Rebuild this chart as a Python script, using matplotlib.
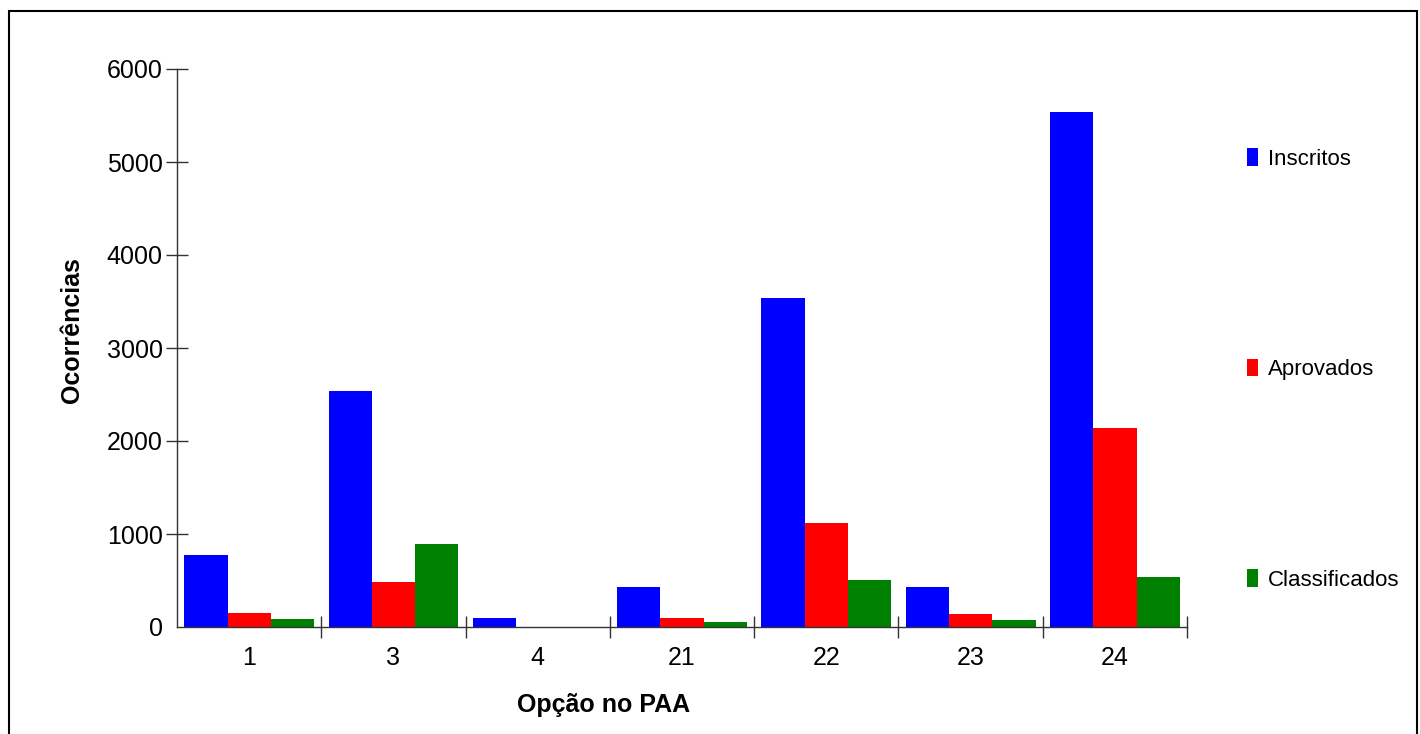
"""
Ocorrências por opção no PAA (Inscritos, Aprovados, Classificados).
"""

import matplotlib
matplotlib.use("Agg")
import matplotlib.pyplot as plt
import numpy as np
from matplotlib.patches import Rectangle

plt.rcParams["font.family"] = ["Liberation Sans", "DejaVu Sans"]

# ---- data ----
opcoes = ["1", "3", "4", "21", "22", "23", "24"]
inscritos = [770, 2540, 95, 435, 3540, 435, 5540]
aprovados = [150, 480, 0, 97, 1120, 135, 2140]
classificados = [85, 890, 0, 50, 505, 70, 535]

series_names = ["Inscritos", "Aprovados", "Classificados"]
series_colors = ["#0000FF", "#FF0000", "#008000"]

W, H = 1420, 734
fig = plt.figure(figsize=(W / 100, H / 100), dpi=100)

# outer frame
fig.patches.append(Rectangle((9 / W, -0.05), 1408 / W, 1.05 - 11 / H,
                             transform=fig.transFigure, fill=False,
                             edgecolor="black", linewidth=1.5))

left, right, top, bottom = 177, 1187, 69, 627
ax = fig.add_axes([left / W, (H - bottom) / H,
                   (right - left) / W, (bottom - top) / H])

n = len(opcoes)
x = np.arange(n) + 0.5
width = 0.3
all_series = [inscritos, aprovados, classificados]
handles = []
for i, (vals, name, col) in enumerate(zip(all_series, series_names, series_colors)):
    b = ax.bar(x + (i - 1) * width, vals, width=width, color=col,
               label=name, linewidth=0)
    handles.append(b)

ax.set_xlim(0, n)
ax.set_ylim(0, 6000)

for s in ["top", "right"]:
    ax.spines[s].set_visible(False)
for s in ["left", "bottom"]:
    ax.spines[s].set_color("#333333")
    ax.spines[s].set_linewidth(1.0)

# y ticks
ax.set_yticks(np.arange(0, 6001, 1000))
ax.tick_params(axis="y", direction="inout", length=16.5, width=1,
               color="#333333", labelsize=18, pad=2)

# x: separators as major ticks, labels on minor ticks at centres
ax.set_xticks(np.arange(n + 1))
ax.set_xticklabels([])
ax.set_xticks(x, minor=True)
ax.set_xticklabels(opcoes, minor=True)
ax.tick_params(axis="x", which="major", direction="inout", length=16.5,
               width=1, color="#333333")
ax.tick_params(axis="x", which="minor", length=0, labelsize=18, pad=14)

# no tick marks at the origin
fig.canvas.draw()
ax.yaxis.get_major_ticks()[0].tick1line.set_visible(False)
ax.xaxis.get_major_ticks()[0].tick1line.set_visible(False)

fig.text(604 / W, 1 - 705 / H, "Opção no PAA", ha="center", va="center",
         fontsize=18, fontweight="bold")
fig.text(72 / W, 1 - 330 / H, "Ocorrências", ha="center", va="center",
         rotation=90, fontsize=18, fontweight="bold")

leg = fig.legend(handles=handles, labels=series_names, loc="upper left",
                 bbox_to_anchor=(1236 / W, 1 - 137 / H), frameon=False,
                 fontsize=16, handlelength=0.5, handleheight=0.85,
                 handletextpad=0.45, labelspacing=8.5, borderpad=0)

fig.savefig("out.png", dpi=100, facecolor="white")
